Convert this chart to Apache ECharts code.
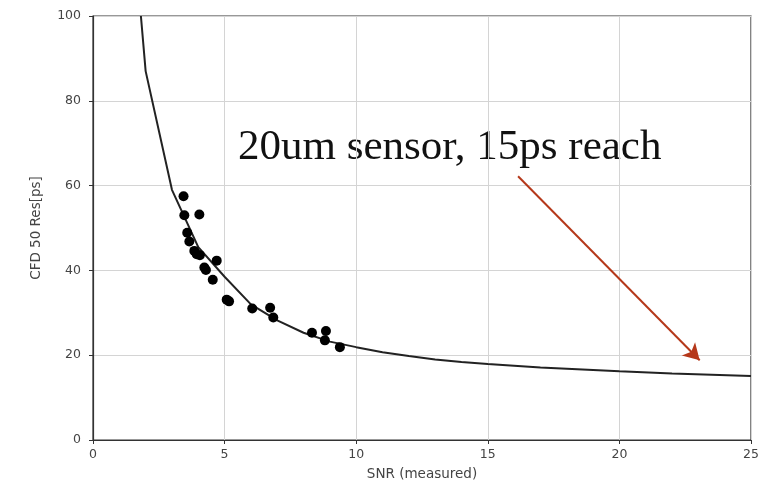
<!DOCTYPE html>
<html>
<head>
<meta charset="utf-8">
<script src="https://cdn.jsdelivr.net/npm/echarts@6/dist/echarts.min.js"></script>
<style>
  html, body { margin: 0; padding: 0; background: #fff; }
  #chart { width: 778px; height: 486px; }
</style>
</head>
<body>
<div id="chart"></div>
<script>
// fitted resolution curve
const curveSnr = [1.82, 2, 3, 4, 5, 6, 7, 8, 9, 10, 11, 12, 13, 14, 15, 17, 20, 22, 25];
const curveRes = [100, 87, 59, 45.5, 38.5, 32, 28.2, 25.3, 23.2, 21.9, 20.7, 19.8, 19.0, 18.4, 17.9, 17.1, 16.2, 15.7, 15.1];

// measured points
const measSnr = [3.44, 3.47, 4.04, 3.58, 3.66, 3.85, 3.94, 4.06, 4.70, 4.23, 4.29, 4.55, 5.08, 5.17, 6.05, 6.73, 6.85, 8.32, 8.85, 8.81, 9.38];
const measRes = [57.5, 53.0, 53.2, 48.9, 46.8, 44.6, 43.8, 43.6, 42.3, 40.7, 40.1, 37.8, 33.1, 32.7, 31.0, 31.2, 28.9, 25.3, 25.7, 23.5, 21.9];

// annotation arrow (data coords)
const arrowFrom = [16.15, 62.2];
const arrowTo = [23.05, 18.8];
const noteText = '20um sensor, 15ps reach';

const chart = echarts.init(document.getElementById('chart'));

const axisCommon = {
  axisLine: { show: true, lineStyle: { color: '#333', width: 1.2 } },
  axisTick: { show: true, length: 4, lineStyle: { color: '#333' } },
  splitLine: { show: true, lineStyle: { color: '#d4d4d4', width: 1 } },
  axisLabel: { color: '#444', fontSize: 12.5, fontFamily: 'DejaVu Sans' },
  nameTextStyle: { color: '#444', fontSize: 13.5, fontFamily: 'DejaVu Sans' }
};

chart.setOption({
  animation: false,
  backgroundColor: '#fff',
  grid: {
    left: 93, right: 27, top: 16, bottom: 43,
    show: true, borderColor: '#333', borderWidth: 1.2, backgroundColor: 'transparent'
  },
  xAxis: Object.assign({}, axisCommon, {
    type: 'value', min: 0, max: 25, interval: 5,
    name: 'SNR (measured)', nameLocation: 'middle', nameGap: 27,
    axisLabel: Object.assign({}, axisCommon.axisLabel, { margin: 8 })
  }),
  yAxis: Object.assign({}, axisCommon, {
    type: 'value', min: 0, max: 100, interval: 20,
    name: 'CFD 50 Res[ps]', nameLocation: 'middle', nameGap: 50,
    axisLabel: Object.assign({}, axisCommon.axisLabel, { margin: 12 })
  }),
  series: [
    {
      type: 'line',
      data: curveSnr.map((x, i) => [x, curveRes[i]]),
      showSymbol: false,
      smooth: false,
      lineStyle: { color: '#222', width: 2 },
      z: 3
    },
    {
      type: 'scatter',
      data: measSnr.map((x, i) => [x, measRes[i]]),
      symbolSize: 10,
      itemStyle: { color: '#000', opacity: 1 },
      z: 4
    },
    {
      type: 'line',
      data: [],
      markLine: {
        silent: true,
        symbol: ['none', 'arrow'],
        symbolSize: [14, 16],
        label: { show: false },
        lineStyle: { color: '#b5381a', width: 2, type: 'solid' },
        data: [[{ coord: arrowFrom }, { coord: arrowTo }]]
      }
    }
  ],
  graphic: [
    {
      type: 'text',
      left: 238,
      top: 126,
      style: {
        text: noteText,
        fill: '#111',
        font: '43px "Liberation Serif"'
      }
    }
  ]
});
</script>
</body>
</html>
